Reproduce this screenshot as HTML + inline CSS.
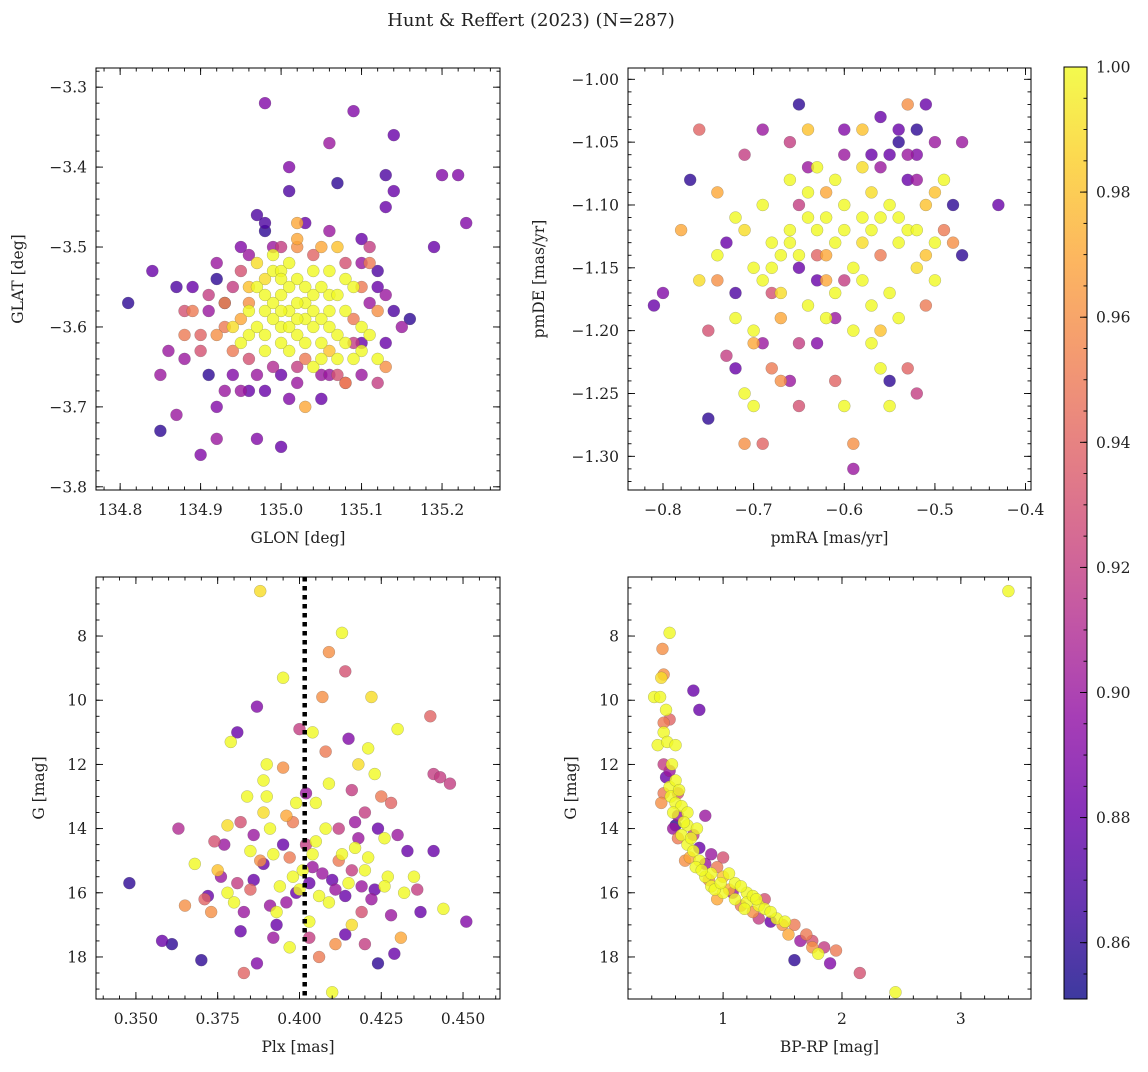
<!DOCTYPE html>
<html><head><meta charset="utf-8"><style>
body{margin:0;background:#fff}
svg text{font-family:"DejaVu Serif","Liberation Serif",serif;fill:#222}
</style></head><body>
<svg id="fig" width="1148" height="1067" xmlns="http://www.w3.org/2000/svg">
<text x="531" y="26" font-size="18" text-anchor="middle">Hunt &amp; Reffert (2023) (N=287)</text>
</svg>
<script>
// ---- data ----
const glonGlat = [[134.81,-3.57,.86],[134.84,-3.53,.88],[134.85,-3.66,.90],[134.85,-3.73,.86],[134.86,-3.63,.9],[134.87,-3.71,.9],[134.87,-3.55,.87],[134.88,-3.64,.9],[134.88,-3.58,.93],[134.90,-3.76,.89],[134.91,-3.66,.86],[134.91,-3.56,.92],[134.92,-3.70,.89],[134.92,-3.74,.9],[134.92,-3.52,.9],[134.93,-3.57,.87],[134.93,-3.60,.95],[134.90,-3.61,.94],[134.94,-3.66,.89],[134.95,-3.53,.93],[134.96,-3.57,.96],[134.97,-3.74,.89],[134.97,-3.46,.87],[134.98,-3.32,.89],[134.98,-3.48,.86],[134.99,-3.50,.9],[135.00,-3.75,.88],[135.01,-3.40,.89],[135.01,-3.43,.87],[135.02,-3.50,.96],[135.02,-3.47,.97],[135.06,-3.37,.9],[135.07,-3.42,.86],[135.09,-3.33,.89],[135.10,-3.49,.88],[135.11,-3.50,.92],[135.13,-3.41,.87],[135.13,-3.45,.88],[135.14,-3.36,.88],[135.14,-3.43,.88],[135.12,-3.53,.87],[135.13,-3.56,.9],[135.15,-3.60,.9],[135.16,-3.59,.86],[135.19,-3.50,.88],[135.20,-3.41,.89],[135.22,-3.41,.89],[135.23,-3.47,.89],[135.12,-3.67,.92],[135.13,-3.65,.96],[135.10,-3.62,.88],[135.08,-3.67,.94],[135.05,-3.66,.9],[135.02,-3.67,.9],[135.00,-3.66,.88],[134.97,-3.66,.9],[134.95,-3.68,.9],[134.98,-3.68,.88],[135.03,-3.64,.95],
[134.97,-3.55,1],[134.98,-3.58,1],[134.99,-3.53,1],[135.00,-3.56,1],[135.01,-3.58,1],[135.02,-3.54,1],[135.03,-3.57,1],[135.00,-3.60,1],[135.02,-3.61,1],[135.04,-3.60,1],[135.05,-3.62,1],[135.06,-3.58,1],[135.07,-3.61,1],[135.08,-3.54,1],[135.09,-3.55,1],[135.10,-3.60,1],[135.10,-3.63,1],[134.96,-3.61,1],[134.95,-3.62,1],[134.94,-3.60,.99],[134.98,-3.63,1],[135.01,-3.63,1],[135.04,-3.65,1],[135.07,-3.64,1],[135.12,-3.64,1],[134.99,-3.51,1],[135.02,-3.49,.97],[135.05,-3.50,.97],[135.07,-3.50,.98],[135.06,-3.53,1],[134.97,-3.52,.99],[134.93,-3.57,.96],[134.92,-3.61,.96],[134.89,-3.58,.95],[134.88,-3.61,.95],[135.03,-3.70,.97],[135.08,-3.67,.95],[135.09,-3.59,.95],[135.12,-3.58,.96],[135.11,-3.52,.95],[135.04,-3.56,1],[134.99,-3.57,1],[135.03,-3.59,1],[134.96,-3.58,1],[135.00,-3.53,1],[135.06,-3.56,1],
[135.00,-3.54,1],[135.01,-3.55,1],[135.02,-3.57,1],[134.99,-3.59,1],[135.01,-3.60,1],[135.03,-3.55,1],[135.04,-3.58,1],[135.05,-3.55,1],[135.05,-3.59,1],[134.98,-3.56,1],[134.97,-3.60,1],[135.00,-3.62,1],[135.02,-3.59,1],[135.03,-3.62,1],[135.06,-3.60,1],[135.08,-3.58,1],[135.08,-3.62,1],[135.11,-3.61,1],[135.04,-3.53,1],[135.01,-3.52,1],[134.98,-3.54,.99],[134.96,-3.55,.98],[135.06,-3.63,.98],[135.09,-3.64,1],[135.00,-3.58,1],[134.95,-3.59,.97],[134.94,-3.63,.95],[134.96,-3.64,.93],[134.99,-3.65,.91],[135.02,-3.65,.92],[135.06,-3.66,.9],[135.09,-3.62,.92],[135.11,-3.57,.9],[135.10,-3.55,.95],[135.08,-3.52,.93],[135.04,-3.51,.94],[135.00,-3.50,.92],[134.96,-3.51,.9],[134.94,-3.55,.92],[134.91,-3.58,.9],[134.90,-3.63,.93],[134.93,-3.68,.9],[134.96,-3.68,.88],[135.01,-3.69,.89],[135.05,-3.69,.88],[135.07,-3.66,.93],[135.10,-3.66,.9],[135.13,-3.62,.88],[135.14,-3.58,.87],[135.12,-3.55,.88],[135.10,-3.52,.9],[135.06,-3.48,.9],[135.03,-3.47,.88],[134.98,-3.47,.87],[134.95,-3.50,.89],[134.92,-3.54,.86],[134.89,-3.55,.88],[134.98,-3.61,1],[135.07,-3.56,1],[135.05,-3.64,1]];
const pmraPmde = [[-0.81,-1.18,.88],[-0.80,-1.17,.89],[-0.77,-1.08,.86],[-0.78,-1.12,.97],[-0.76,-1.16,.99],[-0.75,-1.27,.86],[-0.76,-1.04,.94],[-0.74,-1.09,.97],[-0.74,-1.16,.96],[-0.75,-1.20,.93],[-0.73,-1.13,.88],[-0.73,-1.22,.92],[-0.72,-1.11,1],[-0.72,-1.19,1],[-0.71,-1.06,.92],[-0.71,-1.25,1],[-0.71,-1.29,.96],[-0.70,-1.20,1],[-0.70,-1.26,1],[-0.70,-1.15,1],[-0.69,-1.10,1],[-0.69,-1.29,.94],[-0.69,-1.21,.9],[-0.68,-1.17,.93],[-0.67,-1.24,.96],[-0.67,-1.14,1],[-0.66,-1.05,.92],[-0.66,-1.13,1],[-0.66,-1.24,.9],[-0.65,-1.02,.86],[-0.65,-1.26,.93],[-0.64,-1.04,.98],[-0.64,-1.07,.9],[-0.64,-1.11,1],[-0.63,-1.16,.88],[-0.63,-1.21,.89],[-0.62,-1.09,.97],[-0.62,-1.14,.97],[-0.61,-1.17,1],[-0.61,-1.24,.94],[-0.60,-1.04,.89],[-0.60,-1.26,1],[-0.60,-1.16,.92],[-0.59,-1.29,.96],[-0.59,-1.31,.9],[-0.58,-1.04,.98],[-0.58,-1.11,1],[-0.57,-1.06,.88],[-0.57,-1.21,1],[-0.56,-1.23,1],[-0.56,-1.14,.95],[-0.55,-1.24,.86],[-0.55,-1.17,1],[-0.55,-1.26,1],[-0.54,-1.05,.86],[-0.54,-1.13,1],[-0.54,-1.19,1],[-0.53,-1.02,.96],[-0.53,-1.08,.88],[-0.53,-1.23,.94],[-0.52,-1.06,.89],[-0.52,-1.15,.99],[-0.52,-1.25,.92],[-0.51,-1.10,.98],[-0.51,-1.18,.95],[-0.51,-1.02,.88],[-0.50,-1.05,.9],[-0.50,-1.13,1],[-0.49,-1.08,1],[-0.48,-1.13,.96],[-0.48,-1.10,.86],[-0.47,-1.05,.9],[-0.47,-1.14,.86],[-0.43,-1.10,.88],[-0.56,-1.03,.88],[-0.62,-1.19,1],[-0.64,-1.18,1],[-0.67,-1.19,.97],[-0.70,-1.21,.97],[-0.59,-1.20,1],[-0.57,-1.09,.99],[-0.58,-1.13,.99],[-0.60,-1.10,1],[-0.65,-1.15,.88],[-0.68,-1.13,1],[-0.72,-1.17,.87],[-0.69,-1.04,.9],[-0.63,-1.07,1],[-0.55,-1.10,1],[-0.53,-1.12,1],[-0.50,-1.16,1],
[-0.66,-1.12,1],[-0.65,-1.14,1],[-0.63,-1.12,1],[-0.62,-1.11,1],[-0.61,-1.13,1],[-0.60,-1.12,1],[-0.59,-1.15,1],[-0.57,-1.12,1],[-0.56,-1.11,1],[-0.54,-1.11,1],[-0.52,-1.12,1],[-0.51,-1.14,.98],[-0.68,-1.15,1],[-0.69,-1.16,1],[-0.67,-1.17,.99],[-0.62,-1.16,.97],[-0.58,-1.16,1],[-0.57,-1.18,1],[-0.64,-1.09,1],[-0.61,-1.08,1],[-0.58,-1.07,.99],[-0.56,-1.07,.9],[-0.55,-1.06,.88],[-0.53,-1.06,.9],[-0.52,-1.08,.9],[-0.52,-1.04,.86],[-0.54,-1.04,.88],[-0.50,-1.09,.98],[-0.49,-1.12,.95],[-0.65,-1.10,.92],[-0.63,-1.14,.94],[-0.61,-1.19,.9],[-0.65,-1.21,.92],[-0.68,-1.23,.95],[-0.72,-1.23,.88],[-0.74,-1.14,1],[-0.71,-1.12,.99],[-0.66,-1.08,1],[-0.60,-1.06,.9],[-0.56,-1.20,.98]];
const plxG = [[0.348,15.7,.86],[0.358,17.5,.88],[0.361,17.6,.86],[0.363,14.0,.91],[0.365,16.4,.96],[0.368,15.1,1],[0.370,18.1,.86],[0.372,16.1,.88],[0.374,14.4,.93],[0.376,15.5,.9],[0.378,13.9,.99],[0.379,11.3,1],[0.381,11.0,.88],[0.383,18.5,.94],[0.384,13.0,1],[0.386,15.6,.88],[0.387,18.2,.89],[0.387,10.2,.89],[0.388,6.6,.99],[0.389,13.5,.99],[0.390,12.0,1],[0.391,16.4,.9],[0.392,14.8,1],[0.393,17.0,.88],[0.395,9.3,1],[0.396,13.6,.97],[0.397,17.7,1],[0.398,15.5,1],[0.399,16.0,.88],[0.400,10.9,.92],[0.402,14.5,.92],[0.403,16.9,1],[0.404,15.2,.9],[0.405,13.2,1],[0.406,18.0,.95],[0.407,9.9,.96],[0.408,11.6,.95],[0.409,12.6,1],[0.410,19.1,1],[0.410,15.6,.88],[0.411,17.6,.96],[0.412,14.0,.92],[0.413,7.9,1],[0.414,9.1,.93],[0.415,15.7,1],[0.416,17.0,.99],[0.417,13.8,.9],[0.418,12.0,.99],[0.419,16.6,.93],[0.420,15.3,1],[0.421,11.5,1],[0.422,9.9,.99],[0.423,15.9,.88],[0.424,18.2,.86],[0.425,13.0,.95],[0.426,14.3,1],[0.428,16.7,.9],[0.429,17.9,.88],[0.430,10.9,1],[0.431,17.4,.97],[0.433,14.7,.88],[0.435,15.5,1],[0.437,16.6,.88],[0.440,10.5,.94],[0.441,12.3,.92],[0.441,14.7,.88],[0.443,12.4,.92],[0.444,16.5,1],[0.446,12.6,.92],[0.451,16.9,.89],[0.409,8.5,.96],[0.415,11.2,.89],[0.380,16.3,1],[0.385,15.9,.94],[0.395,14.5,.88],[0.398,13.8,.95],[0.404,14.8,1],[0.406,16.1,1],[0.412,15.0,.95],[0.418,14.3,.9],[0.393,16.6,1],[0.383,16.6,.9],[0.377,14.5,.9],[0.371,16.2,.94],[0.389,15.1,.88],[0.400,15.9,1],[0.420,13.5,.92],[0.427,15.5,1],[0.390,13.0,1],[0.402,12.9,.9],[0.408,14.0,1],[0.375,15.3,.98],[0.382,17.2,.88],
[0.386,14.2,.9],[0.388,15.0,.96],[0.391,14.0,1],[0.394,15.8,1],[0.396,16.3,.9],[0.397,14.9,.95],[0.399,13.2,1],[0.401,15.3,1],[0.403,15.7,.88],[0.405,14.4,1],[0.407,15.4,.9],[0.409,16.3,1],[0.411,15.9,.9],[0.413,14.8,1],[0.414,16.1,.88],[0.416,15.3,.92],[0.417,14.6,1],[0.419,15.8,.9],[0.421,14.9,1],[0.422,16.2,.9],[0.424,14.0,.88],[0.426,15.8,1],[0.428,13.2,.94],[0.430,14.2,.9],[0.432,16.0,1],[0.385,14.7,1],[0.381,15.7,.92],[0.378,16.0,1],[0.373,16.6,.96],[0.392,17.4,.9],[0.403,17.4,.92],[0.414,17.3,.88],[0.420,17.6,.92],[0.436,15.9,.92],[0.389,12.5,1],[0.395,12.1,.96],[0.404,11.0,1],[0.416,12.8,.92],[0.423,12.3,1],[0.382,13.8,.93]];
const bprpG = [[0.42,9.9,1],[0.47,9.9,1],[0.45,11.4,1],[0.48,9.3,.99],[0.50,9.2,.96],[0.49,8.4,.96],[0.55,7.9,1],[0.50,10.7,.95],[0.52,10.3,1],[0.55,10.6,.94],[0.50,11.0,1],[0.53,11.3,1],[0.60,11.4,1],[0.50,12.0,.92],[0.52,12.4,.88],[0.55,12.2,.9],[0.55,12.7,1],[0.60,12.5,1],[0.50,12.9,.95],[0.56,13.0,1],[0.60,13.2,1],[0.60,13.9,.86],[0.62,13.6,.9],[0.65,13.3,1],[0.62,12.9,.93],[0.70,13.5,1],[0.70,13.9,1],[0.65,14.2,1],[0.70,14.5,1],[0.72,14.9,.97],[0.75,14.2,.92],[0.75,14.7,1],[0.80,14.6,.88],[0.78,14.0,1],[0.80,15.0,1],[0.85,15.1,.9],[0.85,15.5,1],[0.90,15.4,1],[0.95,15.2,.95],[0.90,15.8,1],[1.00,15.5,.98],[1.00,16.0,1],[1.05,15.9,.97],[1.10,15.7,1],[1.10,16.2,1],[1.15,16.4,.95],[1.20,16.0,1],[1.20,16.3,1],[1.25,16.6,.96],[1.30,16.4,1],[1.30,16.8,.92],[1.35,16.5,1],[1.40,16.9,.88],[1.45,16.8,1],[1.50,17.0,.96],[1.55,17.3,.97],[1.60,17.0,.95],[1.60,18.1,.86],[1.65,17.5,.9],[1.70,17.3,.95],[1.75,17.7,.96],[1.75,17.5,.93],[1.80,17.9,1],[1.85,17.7,.92],[1.90,18.2,.89],[1.95,17.8,.95],[2.15,18.5,.93],[2.45,19.1,1],[3.40,6.6,1],[0.75,9.7,.88],[0.80,10.3,.88],[0.85,13.6,.9],[0.90,14.8,.9],[0.68,15.0,.96],[1.00,14.9,.93],[1.05,15.4,1],[0.95,16.2,.97],[1.35,16.2,.93],[0.58,13.5,1],[0.48,13.2,.96],[0.62,14.3,.95],[1.15,15.8,1],[1.25,16.1,1],
[0.57,12.0,1],[0.63,12.8,1],[0.58,14.0,.9],[0.67,13.8,1],[0.73,14.3,1],[0.77,15.2,1],[0.82,15.3,1],[0.88,15.6,.96],[0.93,15.9,1],[0.98,15.7,1],[1.08,16.0,.9],[1.18,16.5,1],[1.28,16.2,1],[1.40,16.6,1],[1.52,16.9,1]];
const ticksGlon=[134.8,134.9,135.0,135.1,135.2], ticksGlat=[-3.3,-3.4,-3.5,-3.6,-3.7,-3.8];
const ticksPmra=[-0.8,-0.7,-0.6,-0.5,-0.4], ticksPmde=[-1.00,-1.05,-1.10,-1.15,-1.20,-1.25,-1.30];
const ticksPlx=[0.350,0.375,0.400,0.425,0.450], ticksG=[8,10,12,14,16,18], ticksBprp=[1,2,3];
const cbarTicks=[0.86,0.88,0.90,0.92,0.94,0.96,0.98,1.00];
const plxLine=0.4016;
const VMIN=0.851, VMAX=1.0;

const NS="http://www.w3.org/2000/svg";
const svg=document.getElementById('fig');
function el(tag,attrs,parent){const e=document.createElementNS(NS,tag);for(const k in attrs)e.setAttribute(k,attrs[k]);(parent||svg).appendChild(e);return e;}
const stops=['#0d0887','#41049d','#6a00a8','#8f0da4','#b12a90','#cc4778','#e16462','#f2844b','#fca636','#fcce25','#f0f921'];
function hex(h){return [1,3,5].map(i=>parseInt(h.substr(i,2),16));}
function plasma(t){t=Math.max(0,Math.min(1,t));const f=t*10,i=Math.min(9,Math.floor(f)),u=f-i;const a=hex(stops[i]),b=hex(stops[i+1]);return 'rgb('+a.map((v,k)=>Math.round(v+(b[k]-v)*u)).join(',')+')';}
const fmtMinus=s=>s.replace('-','\u2212');

function panel(o){
  const g=el('g',{});
  
  
  const X=v=>o.x0+(v-o.xd[0])/(o.xd[1]-o.xd[0])*(o.x1-o.x0);
  const Y=v=>o.y0+(v-o.yd[0])/(o.yd[1]-o.yd[0])*(o.y1-o.y0);
  const pts=o.data.slice().sort((a,b)=>a[2]-b[2]);
  const pg=el('g',{},g);
  
  
  pts.forEach(p=>{
    const c=el('circle',{cx:X(p[0]),cy:Y(p[1]),r:6,fill:plasma((p[2]-VMIN)/(VMAX-VMIN)),'fill-opacity':0.8,stroke:'#555','stroke-width':0.35,'stroke-opacity':0.6},pg);
    
    
  });
  if(o.vline!==undefined){
    const l=el('line',{x1:X(o.vline),x2:X(o.vline),y1:o.y0,y2:o.y1,stroke:'#000','stroke-width':4.5,'stroke-dasharray':'4.5,4.5'},g);
    
    
  }
  const fr=el('rect',{x:o.x0,y:o.y0,width:o.x1-o.x0,height:o.y1-o.y0,fill:'none',stroke:'#000','stroke-width':1},g);
  
  
  const tk=(x1,y1,x2,y2)=>el('line',{x1,y1,x2,y2,stroke:'#000','stroke-width':0.9},g);
  const lo=Math.min(...o.xd),hi=Math.max(...o.xd);
  for(let v=Math.ceil(lo/o.xm-1e-9)*o.xm;v<=hi+1e-9;v+=o.xm){const x=X(v);tk(x,o.y1,x,o.y1-3.5);tk(x,o.y0,x,o.y0+3.5);}
  const ylo=Math.min(...o.yd),yhi=Math.max(...o.yd);
  for(let v=Math.ceil(ylo/o.ym-1e-9)*o.ym;v<=yhi+1e-9;v+=o.ym){const y=Y(v);tk(o.x0,y,o.x0+3.5,y);tk(o.x1,y,o.x1-3.5,y);}
  o.xt.forEach(v=>{const x=X(v);tk(x,o.y1,x,o.y1-7);tk(x,o.y0,x,o.y0+7);
    const t=el('text',{x:x,y:o.y1+25,'font-size':15.5,'text-anchor':'middle'},g);t.textContent=fmtMinus(v.toFixed(o.xf));
    });
  o.yt.forEach(v=>{const y=Y(v);tk(o.x0,y,o.x0+7,y);tk(o.x1,y,o.x1-7,y);
    const t=el('text',{x:o.x0-9,y:y+5.5,'font-size':15.5,'text-anchor':'end'},g);t.textContent=fmtMinus(v.toFixed(o.yf));
    });
  const xl=el('text',{x:(o.x0+o.x1)/2,y:o.y1+53,'font-size':15.5,'text-anchor':'middle'},g);xl.textContent=o.xlabel;
  
  const yl=el('text',{x:0,y:0,'font-size':15.5,'text-anchor':'middle',transform:`translate(${o.ylx},${(o.y0+o.y1)/2}) rotate(-90)`},g);yl.textContent=o.ylabel;
  
}
panel({name:'glon-glat-panel',data:glonGlat,x0:96,x1:500,y0:68,y1:490,xd:[134.77,135.272],yd:[-3.276,-3.804],xt:ticksGlon,yt:ticksGlat,xf:1,yf:1,xm:0.02,ym:0.02,xlabel:'GLON [deg]',ylabel:'GLAT [deg]',ylx:23});
panel({name:'pm-panel',data:pmraPmde,x0:628,x1:1031,y0:68,y1:490,xd:[-0.8386,-0.394],yd:[-0.991,-1.3268],xt:ticksPmra,yt:ticksPmde,xf:1,yf:2,xm:0.02,ym:0.01,xlabel:'pmRA [mas/yr]',ylabel:'pmDE [mas/yr]',ylx:544});
panel({name:'plx-g-panel',data:plxG,x0:96,x1:500,y0:577,y1:999,xd:[0.3378,0.4613],yd:[6.16,19.31],xt:ticksPlx,yt:ticksG,xf:3,yf:0,xm:0.005,ym:0.5,xlabel:'Plx [mas]',ylabel:'G [mag]',ylx:44,vline:plxLine});
panel({name:'cmd-panel',data:bprpG,x0:628,x1:1031,y0:577,y1:999,xd:[0.20,3.59],yd:[6.16,19.31],xt:ticksBprp,yt:ticksG,xf:0,yf:0,xm:0.2,ym:0.5,xlabel:'BP-RP [mag]',ylabel:'G [mag]',ylx:576});

const cb=el('g',{});


const defs=el('defs',{},cb);
const lg=el('linearGradient',{id:'cbg',x1:0,y1:1,x2:0,y2:0},defs);
for(let i=0;i<=20;i++)el('stop',{offset:i/20,'stop-color':plasma(i/20),'stop-opacity':0.8},lg);
const cbx0=1064,cbx1=1087,cby0=67,cby1=999;
el('rect',{x:cbx0,y:cby0,width:cbx1-cbx0,height:cby1-cby0,fill:'url(#cbg)',stroke:'#000','stroke-width':1},cb);
const CY=v=>cby1-(v-VMIN)/(VMAX-VMIN)*(cby1-cby0);
for(let v=0.855;v<=1.0001;v+=0.005){const y=CY(v);el('line',{x1:cbx1,x2:cbx1-3.5,y1:y,y2:y,stroke:'#000','stroke-width':0.9},cb);}
cbarTicks.forEach(v=>{const y=CY(v);el('line',{x1:cbx1,x2:cbx1-7,y1:y,y2:y,stroke:'#000','stroke-width':0.9},cb);
  const t=el('text',{x:1096,y:y+5.5,'font-size':15.5},cb);t.textContent=v.toFixed(2);
  });
</script>
</body></html>
